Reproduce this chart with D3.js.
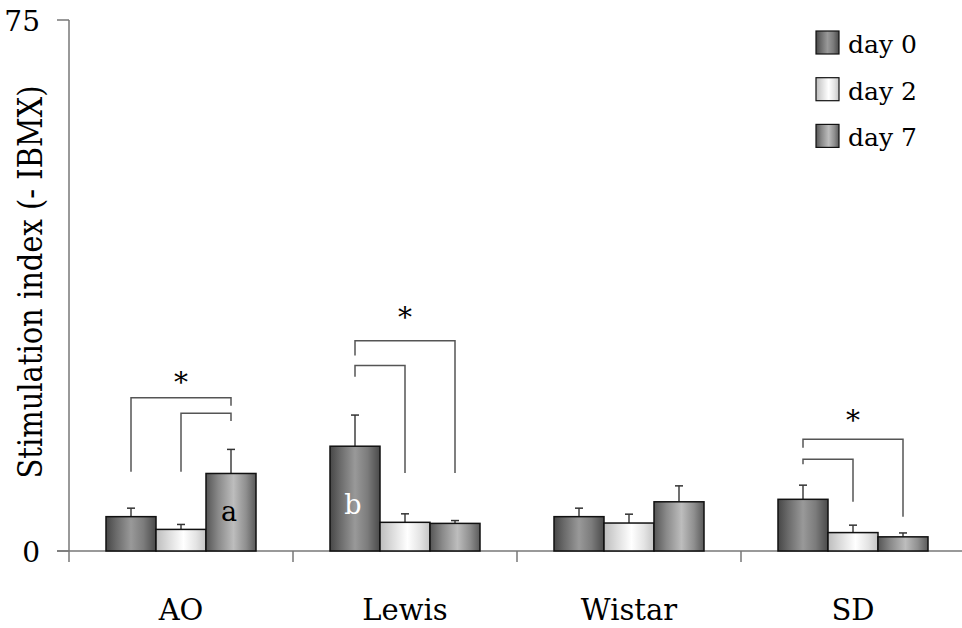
<!DOCTYPE html>
<html>
<head>
<meta charset="utf-8">
<script src="https://cdn.jsdelivr.net/npm/d3@7"></script>
<style>
  body { margin: 0; background: #fff; }
</style>
</head>
<body>
<svg class="chart" width="962" height="628"></svg>
<script>
(function () {

    'use strict';

    // strains on the x axis, one group of bars each
    var groups = ["AO", "Lewis", "Wistar", "SD"];
    var series = ["day 0", "day 2", "day 7"];

    // mean stimulation index per strain (same order as groups)
    var day0 = [4.85, 14.8, 4.85, 7.3];
    var day2 = [3.05, 4.05, 3.95, 2.6];
    var day7 = [10.95, 3.9, 6.95, 2.0];

    // upward error bars
    var day0Err = [1.2, 4.4, 1.2, 2.0];
    var day2Err = [0.7, 1.2, 1.25, 1.05];
    var day7Err = [3.4, 0.4, 2.25, 0.55];

    var yTicks = [0, 75];

    // letters written inside some bars (level = baseline of the letter)
    var barLabels = [
        { group: "AO", serie: "day 7", text: "a", level: 4.25, color: "#000" },
        { group: "Lewis", serie: "day 0", text: "b", level: 5.2, color: "#fff" }
    ];

    // significance brackets: levels of the top line and the two legs
    var brackets = [
        { group: "AO", from: "day 0", to: "day 7", top: 21.65, fromEnd: 11.2, toEnd: 20.5 },
        { group: "AO", from: "day 2", to: "day 7", top: 19.45, fromEnd: 11.2, toEnd: 18.35 },
        { group: "Lewis", from: "day 0", to: "day 7", top: 29.7, fromEnd: 27.6, toEnd: 11.0 },
        { group: "Lewis", from: "day 0", to: "day 2", top: 26.2, fromEnd: 24.6, toEnd: 11.0 },
        { group: "SD", from: "day 0", to: "day 7", top: 15.8, fromEnd: 14.6, toEnd: 4.85 },
        { group: "SD", from: "day 0", to: "day 2", top: 12.95, fromEnd: 12.25, toEnd: 6.95 }
    ];
    var stars = [
        { group: "AO", level: 24.6 },
        { group: "Lewis", level: 33.8 },
        { group: "SD", level: 19.2 }
    ];

    var values = { "day 0": day0, "day 2": day2, "day 7": day7 };
    var errors = { "day 0": day0Err, "day 2": day2Err, "day 7": day7Err };

    var serif = "'DejaVu Serif', serif";

    var svg = d3.select("svg.chart");

    var x0 = d3.scaleBand().domain(groups).range([69, 965]).paddingInner(0).paddingOuter(0);
    var x1 = d3.scaleBand().domain(series).range([37, 187]);
    var y = d3.scaleLinear().domain([0, 75]).range([551, 20]);

    function cx(g, s) { return x0(g) + x1(s) + x1.bandwidth() / 2; }

    // cylinder style fills
    var fills = {
        "day 0": [["0%", "#474747"], ["20%", "#6a6a6a"], ["50%", "#999999"], ["75%", "#7c7c7c"], ["100%", "#4a4a4a"]],
        "day 2": [["0%", "#bdbdbd"], ["25%", "#dcdcdc"], ["55%", "#ffffff"], ["80%", "#e4e4e4"], ["100%", "#c4c4c4"]],
        "day 7": [["0%", "#555555"], ["25%", "#8a8a8a"], ["55%", "#bdbdbd"], ["80%", "#8f8f8f"], ["100%", "#5a5a5a"]]
    };
    var defs = svg.append("defs");
    series.forEach(function (s, i) {
        var grad = defs.append("linearGradient")
            .attr("id", "grad" + i)
            .attr("x1", "0%").attr("x2", "100%").attr("y1", "0%").attr("y2", "0%");
        fills[s].forEach(function (st) {
            grad.append("stop").attr("offset", st[0]).attr("stop-color", st[1]);
        });
    });
    function fillOf(s) { return "url(#grad" + series.indexOf(s) + ")"; }

    // axes
    var axis = svg.append("g").attr("stroke", "#777").attr("stroke-width", 1.5);
    axis.append("line").attr("x1", 69).attr("x2", 69).attr("y1", y(75)).attr("y2", 562);
    axis.append("line").attr("x1", 57).attr("x2", 965).attr("y1", y(0)).attr("y2", y(0));
    axis.selectAll("line.ytick")
        .data(yTicks)
        .enter().append("line")
        .attr("class", "ytick")
        .attr("x1", 57).attr("x2", 69)
        .attr("y1", function (d) { return y(d); })
        .attr("y2", function (d) { return y(d); });
    axis.selectAll("line.xtick")
        .data(groups.slice(1))
        .enter().append("line")
        .attr("class", "xtick")
        .attr("x1", function (d) { return x0(d); })
        .attr("x2", function (d) { return x0(d); })
        .attr("y1", y(0)).attr("y2", 562);

    svg.selectAll("text.ytick")
        .data(yTicks)
        .enter().append("text")
        .attr("class", "ytick")
        .attr("x", 40)
        .attr("y", function (d) { return y(d) + 11; })
        .attr("text-anchor", "end")
        .style("font-family", serif)
        .attr("font-size", 28)
        .text(function (d) { return d; });

    svg.selectAll("text.xlabel")
        .data(groups)
        .enter().append("text")
        .attr("class", "xlabel")
        .attr("x", function (d) { return x0(d) + x0.bandwidth() / 2; })
        .attr("y", 620)
        .attr("text-anchor", "middle")
        .style("font-family", serif)
        .attr("font-size", 29)
        .text(function (d) { return d; });

    svg.append("text")
        .attr("transform", "translate(42,282) rotate(-90)")
        .attr("text-anchor", "middle")
        .style("font-family", serif)
        .attr("font-size", 34)
        .attr("textLength", 393)
        .attr("lengthAdjust", "spacingAndGlyphs")
        .text("Stimulation index (- IBMX)");

    // bars
    var rows = [];
    groups.forEach(function (g, gi) {
        series.forEach(function (s) {
            rows.push({ group: g, serie: s, value: values[s][gi], err: errors[s][gi] });
        });
    });

    var err = svg.append("g");
    err.selectAll("line.stem")
        .data(rows)
        .enter().append("line")
        .attr("class", "stem")
        .attr("x1", function (d) { return cx(d.group, d.serie); })
        .attr("x2", function (d) { return cx(d.group, d.serie); })
        .attr("y1", function (d) { return y(d.value); })
        .attr("y2", function (d) { return y(d.value + d.err); })
        .attr("stroke", "#707070")
        .attr("stroke-width", 2);
    err.selectAll("line.cap")
        .data(rows)
        .enter().append("line")
        .attr("class", "cap")
        .attr("x1", function (d) { return cx(d.group, d.serie) - 4; })
        .attr("x2", function (d) { return cx(d.group, d.serie) + 4; })
        .attr("y1", function (d) { return y(d.value + d.err); })
        .attr("y2", function (d) { return y(d.value + d.err); })
        .attr("stroke", "#333")
        .attr("stroke-width", 1.5);

    svg.append("g")
        .selectAll("rect")
        .data(rows)
        .enter().append("rect")
        .attr("x", function (d) { return x0(d.group) + x1(d.serie); })
        .attr("y", function (d) { return y(d.value); })
        .attr("width", x1.bandwidth())
        .attr("height", function (d) { return y(0) - y(d.value); })
        .attr("fill", function (d) { return fillOf(d.serie); })
        .attr("stroke", "#111")
        .attr("stroke-width", 1.5);

    svg.selectAll("text.barlabel")
        .data(barLabels)
        .enter().append("text")
        .attr("class", "barlabel")
        .attr("x", function (d) { return cx(d.group, d.serie) - 2; })
        .attr("y", function (d) { return y(d.level); })
        .attr("text-anchor", "middle")
        .style("font-family", serif)
        .attr("font-size", 27)
        .attr("fill", function (d) { return d.color; })
        .text(function (d) { return d.text; });

    // significance brackets
    svg.append("g")
        .selectAll("path")
        .data(brackets)
        .enter().append("path")
        .attr("d", function (d) {
            var a = cx(d.group, d.from), b = cx(d.group, d.to);
            return "M" + a + "," + y(d.fromEnd) + "V" + y(d.top) + "H" + b + "V" + y(d.toEnd);
        })
        .attr("fill", "none")
        .attr("stroke", "#555")
        .attr("stroke-width", 1.5);

    svg.selectAll("text.star")
        .data(stars)
        .enter().append("text")
        .attr("class", "star")
        .attr("x", function (d) { return (cx(d.group, "day 0") + cx(d.group, "day 7")) / 2; })
        .attr("y", function (d) { return y(d.level) + 15; })
        .attr("text-anchor", "middle")
        .style("font-family", serif)
        .attr("font-size", 28)
        .text("*");

    // legend
    var legend = svg.append("g")
        .selectAll("g")
        .data(series)
        .enter().append("g")
        .attr("transform", function (d, i) { return "translate(816," + (31 + i * 46.7) + ")"; });

    legend.append("rect")
        .attr("width", 23)
        .attr("height", 23)
        .attr("fill", function (d) { return fillOf(d); })
        .attr("stroke", "#111")
        .attr("stroke-width", 1.2);

    legend.append("text")
        .attr("x", 32)
        .attr("y", 22)
        .style("font-family", serif)
        .attr("font-size", 25)
        .text(function (d) { return d; });
})();
</script>
</body>
</html>
